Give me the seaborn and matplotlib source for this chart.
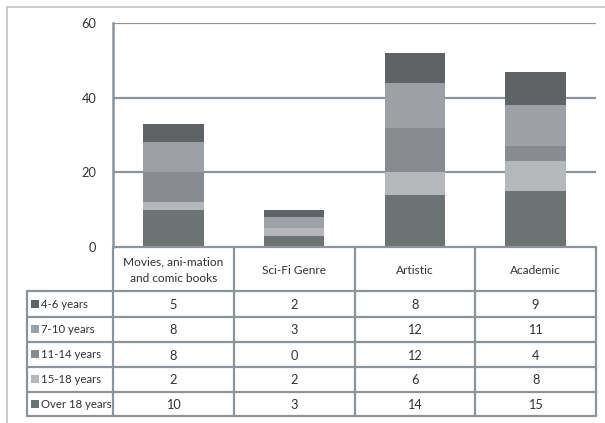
import numpy as np
import pandas as pd
import matplotlib
matplotlib.use("Agg")
import matplotlib.pyplot as plt
import seaborn as sns

# Data
categories = ["Movies, ani-mation\nand comic books", "Sci-Fi Genre", "Artistic", "Academic"]
series_names = ["4-6 years", "7-10 years", "11-14 years", "15-18 years", "Over 18 years"]
age_4_6 = [5, 2, 8, 9]
age_7_10 = [8, 3, 12, 11]
age_11_14 = [8, 0, 12, 4]
age_15_18 = [2, 2, 6, 8]
age_over_18 = [10, 3, 14, 15]
yticks = [0, 20, 40, 60]

series = [age_4_6, age_7_10, age_11_14, age_15_18, age_over_18]
colors = ["#5e6466", "#9ca1a6", "#878c91", "#b4b7bb", "#6c7274"]
line_c = "#8c9399"
text_c = "#333333"

sns.set_style("white")
plt.rcParams["font.family"] = ["Lato", "DejaVu Sans"]
fs_head = 8.6  # category header labels
fs_row = 8.2   # row labels
fs_num = 9.2   # numbers

W, H = 605, 423
fig = plt.figure(figsize=(W / 100, H / 100), dpi=100)

# pixel layout
x0, x1 = 113, 596
y_top, y_zero = 23, 247
ax = fig.add_axes([x0 / W, 1 - y_zero / H, (x1 - x0) / W, (y_zero - y_top) / H])

# stacked bars, bottom layer is the last series
bottom = np.zeros(len(categories))
for name, vals, col in reversed(list(zip(series_names, series, colors))):
    sns.barplot(x=categories, y=vals, bottom=bottom, color=col, width=0.5,
                errorbar=None, linewidth=0, ax=ax, zorder=3)
    bottom = bottom + np.array(vals)

ax.set_xlim(-0.5, len(categories) - 0.5)
ax.set_ylim(0, 60)
ax.set_yticks(yticks)
ax.set_yticklabels([str(t) for t in yticks], fontsize=fs_num, color=text_c)
ax.tick_params(axis="y", length=0, pad=12)
ax.set_xticks([])
ax.set_xlabel("")
ax.set_ylabel("")
for t in yticks[1:]:
    ax.axhline(t, color=line_c, lw=1.6, zorder=1)
for s in ["top", "right", "bottom"]:
    ax.spines[s].set_visible(False)
ax.spines["left"].set_color(line_c)
ax.spines["left"].set_linewidth(1.8)

# overlay in pixel coords for table and frame
ov = fig.add_axes([0, 0, 1, 1], zorder=5)
ov.set_xlim(0, W)
ov.set_ylim(H, 0)
ov.axis("off")
ov.patch.set_alpha(0)

# outer frame
ov.plot([7, W], [7, 7], color="#c4c4c4", lw=1.2)
ov.plot([7, 7], [7, H], color="#c4c4c4", lw=1.2)

col_edges = np.linspace(x0, x1, len(categories) + 1)
lab_left = 27
row_edges = [291, 317, 342, 367, 392, 416]

# header cells
ov.plot([x0, x1], [y_zero, y_zero], color=line_c, lw=1.6)
for cx in col_edges:
    ov.plot([cx, cx], [y_zero, row_edges[-1]], color=line_c, lw=1.6)
for i, cat in enumerate(categories):
    ov.text((col_edges[i] + col_edges[i + 1]) / 2, (y_zero + row_edges[0]) / 2 + 1, cat,
            ha="center", va="center", fontsize=fs_head, color=text_c, linespacing=1.6)

# data rows
for ry in row_edges:
    ov.plot([lab_left, x1], [ry, ry], color=line_c, lw=1.6)
ov.plot([lab_left, lab_left], [row_edges[0], row_edges[-1]], color=line_c, lw=1.6)
for r, (name, vals, col) in enumerate(zip(series_names, series, colors)):
    yc = (row_edges[r] + row_edges[r + 1]) / 2
    ov.add_patch(plt.Rectangle((31, yc - 4), 8, 8, color=col, lw=0))
    ov.text(41, yc, name, ha="left", va="center", fontsize=fs_row, color=text_c)
    for i, v in enumerate(vals):
        ov.text((col_edges[i] + col_edges[i + 1]) / 2, yc + 1, str(v),
                ha="center", va="center", fontsize=fs_num, color=text_c)

fig.savefig("out.png", dpi=100)
